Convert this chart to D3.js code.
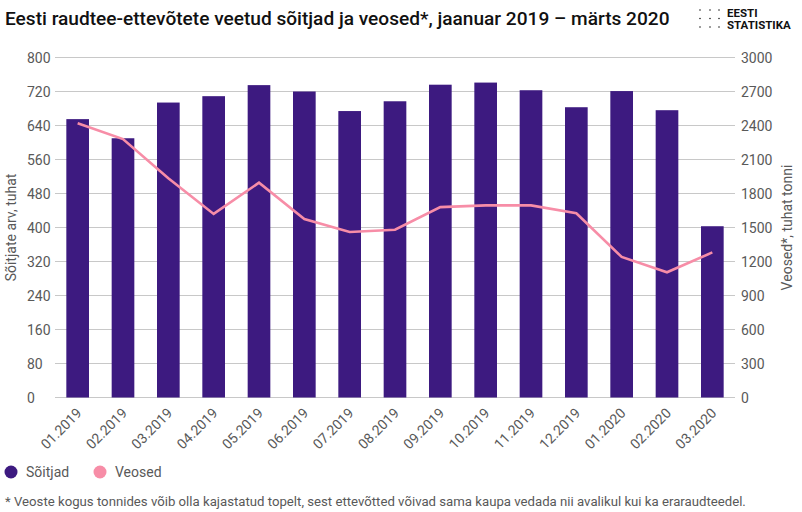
<!DOCTYPE html>
<html>
<head>
<meta charset="utf-8">
<script src="https://cdn.jsdelivr.net/npm/d3@7"></script>
<style>
    html, body { margin: 0; padding: 0; background: #fff; }
    svg { display: block; font-family: Roboto, sans-serif; }
    text { fill: #595959; }
</style>
</head>
<body>
<svg id="chart" width="802" height="512"></svg>
<script>
var months = ["01.2019", "02.2019", "03.2019", "04.2019", "05.2019", "06.2019", "07.2019", "08.2019",
              "09.2019", "10.2019", "11.2019", "12.2019", "01.2020", "02.2020", "03.2020"];
var passengers = [655, 610, 694, 709, 735, 720, 674, 697, 736, 741, 723, 683, 721, 676, 403];
var freight = [2420, 2280, 1935, 1620, 1895, 1575, 1460, 1480, 1680, 1695, 1695, 1625, 1240, 1105, 1280];
var leftTicks = [0, 80, 160, 240, 320, 400, 480, 560, 640, 720, 800];
var rightTicks = [0, 300, 600, 900, 1200, 1500, 1800, 2100, 2400, 2700, 3000];
var legendItems = ["Sõitjad", "Veosed"];

var purple = "#3d1a80",
    pink   = "#f78da7",
    gridColor = "#c8c8c8";

var svg = d3.select("#chart");

// Bars are half a step wide, with a quarter step left at each end
var x = d3.scaleBand().domain(months).range([55, 735]).paddingInner(0.5).paddingOuter(0.25);
var yLeft = d3.scaleLinear().domain([0, 800]).range([397.5, 57.5]);
var yRight = d3.scaleLinear().domain([0, 3000]).range([397.5, 57.5]);

// Gridlines
svg.append("g")
    .selectAll("line")
    .data(leftTicks)
    .join("line")
    .attr("x1", 55)
    .attr("x2", 735)
    .attr("y1", function(d) { return yLeft(d); })
    .attr("y2", function(d) { return yLeft(d); })
    .attr("stroke", gridColor)
    .attr("stroke-width", 1);

// Bars
svg.append("g")
    .selectAll("rect")
    .data(passengers)
    .join("rect")
    .attr("x", function(d, i) { return x(months[i]); })
    .attr("width", x.bandwidth())
    .attr("y", function(d) { return yLeft(d); })
    .attr("height", function(d) { return yLeft(0) - yLeft(d); })
    .attr("fill", purple);

// Line
var line = d3.line()
    .x(function(d, i) { return x(months[i]) + x.bandwidth() / 2; })
    .y(function(d) { return yRight(d); });

svg.append("path")
    .datum(freight)
    .attr("d", line)
    .attr("fill", "none")
    .attr("stroke", pink)
    .attr("stroke-width", 2.6);

// Axis labels
svg.append("g")
    .selectAll("text")
    .data(leftTicks)
    .join("text")
    .attr("x", 27)
    .attr("y", function(d) { return yLeft(d) + 5; })
    .attr("font-size", 14)
    .text(function(d) { return d; });

svg.append("g")
    .selectAll("text")
    .data(rightTicks)
    .join("text")
    .attr("x", 741)
    .attr("y", function(d) { return yRight(d) + 5; })
    .attr("font-size", 14)
    .text(function(d) { return d; });

svg.append("g")
    .selectAll("text")
    .data(months)
    .join("text")
    .attr("text-anchor", "end")
    .attr("font-size", 14)
    .attr("transform", function(d) {
        return "translate(" + (x(d) + x.bandwidth() / 2 + 5) + ",414) rotate(-45)";
    })
    .text(function(d) { return d; });

svg.append("text")
    .attr("transform", "translate(16,227.5) rotate(-90)")
    .attr("text-anchor", "middle")
    .attr("font-size", 14)
    .text("Sõitjate arv, tuhat");

svg.append("text")
    .attr("transform", "translate(792,227.5) rotate(-90)")
    .attr("text-anchor", "middle")
    .attr("font-size", 14)
    .text("Veosed*, tuhat tonni");

// Title
svg.append("text")
    .attr("x", 5)
    .attr("y", 25)
    .attr("font-size", 19.1)
    .attr("font-weight", 500)
    .style("fill", "#111")
    .text("Eesti raudtee-ettevõtete veetud sõitjad ja veosed*, jaanuar 2019 – märts 2020");

// Logo
var logoDots = d3.cross([700, 710, 719], [10, 18.5, 27]);
svg.append("g")
    .selectAll("circle")
    .data(logoDots)
    .join("circle")
    .attr("cx", function(d) { return d[0]; })
    .attr("cy", function(d) { return d[1]; })
    .attr("r", 0.8)
    .attr("fill", "#222");

svg.append("g")
    .selectAll("text")
    .data(["EESTI", "STATISTIKA"])
    .join("text")
    .attr("x", 727)
    .attr("y", function(d, i) { return 16.5 + i * 12.5; })
    .attr("font-size", 11.5)
    .attr("font-weight", 700)
    .style("fill", "#111")
    .text(function(d) { return d; });

// Legend
var legend = svg.append("g")
    .selectAll("g")
    .data(legendItems)
    .join("g")
    .attr("transform", function(d, i) { return "translate(" + [11, 100][i] + ",472)"; });

legend.append("circle")
    .attr("r", 6.5)
    .attr("fill", function(d, i) { return [purple, pink][i]; });

legend.append("text")
    .attr("x", 15)
    .attr("y", 5)
    .attr("font-size", 14)
    .text(function(d) { return d; });

// Footnote
svg.append("text")
    .attr("x", 5)
    .attr("y", 506)
    .attr("font-size", 13.2)
    .text("* Veoste kogus tonnides võib olla kajastatud topelt, sest ettevõtted võivad sama kaupa vedada nii avalikul kui ka eraraudteedel.");
</script>
</body>
</html>
